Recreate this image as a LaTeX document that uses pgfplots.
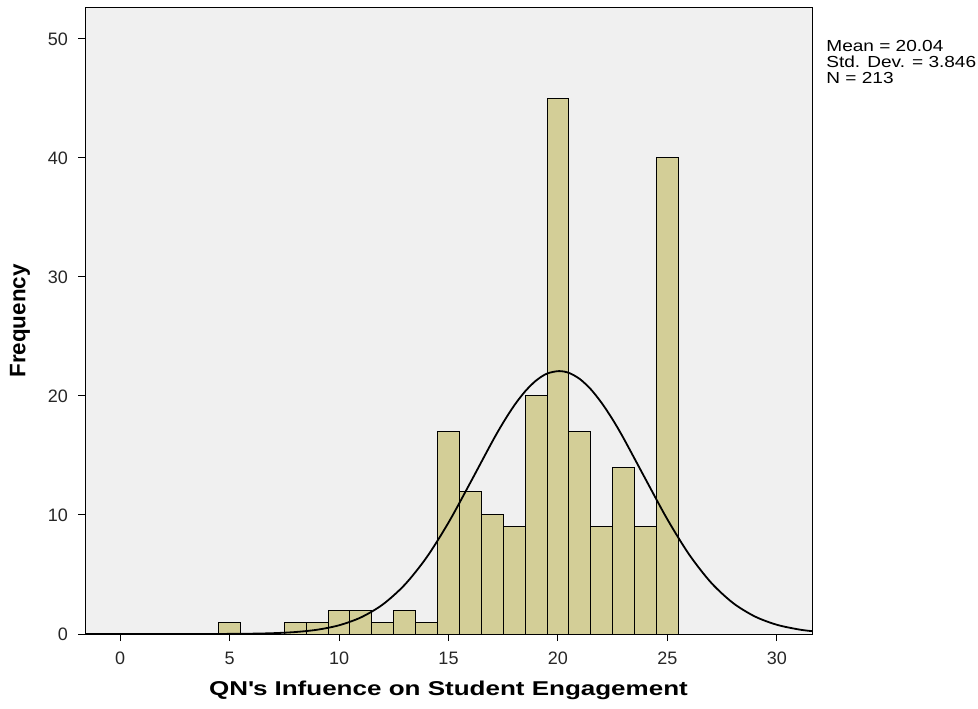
\documentclass[border=0pt]{standalone}
\usepackage{pgfplots}
\pgfplotsset{compat=1.18}
\usepackage{fontspec}
\setmainfont{Liberation Sans}
\newfontfamily\widefont[FakeStretch=1.3]{Liberation Sans}
\newfontfamily\widerfont[FakeStretch=1.19]{Liberation Sans}
\definecolor{barfill}{RGB}{211,206,151}
\definecolor{bgc}{RGB}{240,240,240}
\begin{document}
\begin{tikzpicture}
\path[use as bounding box] (0,0) rectangle (489pt,354pt);
\begin{axis}[
  at={(42.5pt,37pt)}, anchor=south west,
  scale only axis, width=363.5pt, height=313pt,
  xmin=-1.6, xmax=31.6, ymin=0, ymax=52.6,
  axis background/.style={fill=bgc},
  xtick={0,5,...,30}, ytick={0,10,...,50},
  tick align=outside, tick pos=left,
  major tick length=3.5pt,
  tick style={black, line width=0.5pt},
  axis line style={black, line width=0.5pt},
  tick label style={font=\fontsize{9}{10}\selectfont, text=black!85},
  x tick label style={yshift=-2pt},
  y tick label style={xshift=-1.5pt},
  /pgf/number format/assume math mode=true,
  xlabel={\widefont\bfseries QN\textquotesingle s Infuence on Student Engagement},
  ylabel={Frequency},
  x label style={font=\bfseries\fontsize{10}{12}\selectfont,
                 at={(axis description cs:0.5,-0.0895)}, anchor=center},
  y label style={font=\bfseries\fontsize{11.2}{12}\selectfont,
                 at={(axis description cs:-0.0894,0.5)}, anchor=center},
  clip=true,
]
\addplot[ybar, bar width=1, bar shift=0pt, fill=barfill, draw=black, line width=0.5pt]
coordinates {
(5,1) (8,1) (9,1) (10,2) (11,2) (12,1) (13,2) (14,1)
(15,17) (16,12) (17,10) (18,9) (19,20) (20,45) (21,17)
(22,9) (23,14) (24,9) (25,40)
};
\addplot[smooth, black, line width=0.9pt] coordinates {
(-1.6,0) (2,0) (4,0.0037) (5,0.0106) (6,0.0283) (7,0.0705) (8,0.165)
(9,0.359) (10,0.732) (11,1.395) (12,2.484) (13,4.138) (14,6.438)
(15,9.362) (16,12.73) (17,16.17) (17.5,17.77) (18,19.20) (18.5,20.39)
(19,21.30) (19.5,21.88) (20.04,22.09) (20.5,21.94) (21,21.42) (21.5,20.56)
(22,19.40) (22.5,18.01) (23,16.43) (24,13.005) (25,9.618) (26,6.651)
(27,4.298) (28,2.596) (29,1.465) (30,0.773) (31,0.381) (31.6,0.241)
};
\end{axis}
\node[anchor=north west, align=left, inner sep=0pt,
      font=\widerfont\fontsize{8}{8.1}\selectfont] at (413pt,334pt)
  {Mean = 20.04\\Std. Dev. = 3.846\\N = 213};
\end{tikzpicture}
\end{document}
